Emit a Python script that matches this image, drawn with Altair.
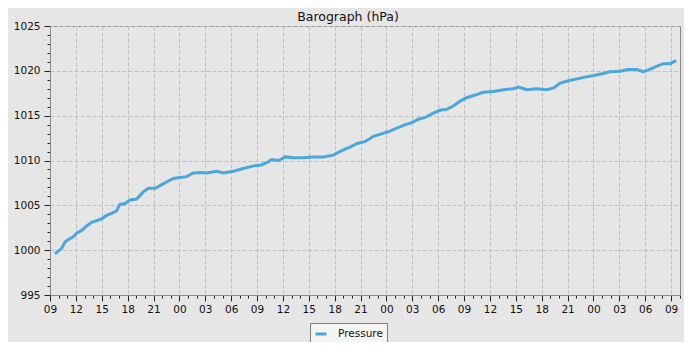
import altair as alt
import pandas as pd

START = "2024-03-04 09:00"
END = "2024-03-07 10:02"
SERIES = "Pressure"

# hours after 09:00 of the first day
hours = [0.58, 1.35, 1.74, 2.13, 2.7, 3.1, 3.67, 4.25, 4.83, 5.41, 6.0, 6.6, 7.15,
         7.73, 8.1, 8.7, 9.28, 10.05, 10.8, 11.4, 12.2, 12.75, 13.5, 14.3, 15.07,
         15.85, 16.6, 17.6, 18.2, 19.3, 20.1, 21.25, 22.4, 23.6, 24.5, 25.3, 25.7,
         26.5, 27.3, 28.2, 29.4, 30.5, 31.7, 32.85, 33.6, 34.4, 34.8, 35.6, 36.5,
         37.5, 38.5, 39.2, 40.2, 41.2, 41.9, 42.7, 43.5, 44.25, 45.2, 46.0, 46.8,
         47.5, 48.3, 49.3, 50.2, 51.4, 52.6, 53.7, 54.3, 55.3, 56.4, 57.6, 58.4,
         59.1, 60.1, 61.1, 62.0, 63.2, 64.15, 64.9, 66.1, 67.0, 68.0, 68.8, 69.6,
         70.3, 71.1, 71.9, 72.6]

pressure = [999.6, 1000.2, 1000.9, 1001.2, 1001.5, 1001.9, 1002.2, 1002.7, 1003.1,
            1003.3, 1003.5, 1003.9, 1004.1, 1004.4, 1005.1, 1005.2, 1005.6, 1005.7,
            1006.5, 1006.9, 1006.9, 1007.2, 1007.6, 1008.0, 1008.1, 1008.2, 1008.6,
            1008.65, 1008.6, 1008.8, 1008.6, 1008.8, 1009.1, 1009.4, 1009.5, 1009.85,
            1010.1, 1010.0, 1010.4, 1010.3, 1010.3, 1010.4, 1010.4, 1010.6, 1011.0,
            1011.35, 1011.5, 1011.9, 1012.1, 1012.7, 1013.0, 1013.2, 1013.6, 1014.0,
            1014.2, 1014.6, 1014.8, 1015.2, 1015.6, 1015.7, 1016.1, 1016.6, 1017.0,
            1017.3, 1017.6, 1017.7, 1017.9, 1018.0, 1018.2, 1017.9, 1018.0, 1017.9,
            1018.1, 1018.6, 1018.9, 1019.1, 1019.3, 1019.5, 1019.7, 1019.9, 1019.95,
            1020.15, 1020.15, 1019.9, 1020.2, 1020.5, 1020.8, 1020.8, 1021.15]

y_major = [995, 1000, 1005, 1010, 1015, 1020, 1025]
y_minor = list(range(995, 1026))

FMT = "%Y-%m-%dT%H:%M:%S"
t0 = pd.Timestamp(START)
df = pd.DataFrame({
    "time": [(t0 + pd.Timedelta(hours=h)).strftime(FMT) for h in hours],
    "pressure": pressure,
    "series": SERIES,
})


def dt(ts):
    return alt.DateTime(year=ts.year, month=ts.month, date=ts.day,
                        hours=ts.hour, minutes=ts.minute)


x_major = [dt(t) for t in pd.date_range(START, END, freq="3h")]
x_minor = [dt(t) for t in pd.date_range(START, END, freq="1h")]

FONT = "DejaVu Sans"
LINE_COLOR = "#4ba6d9"

x_scale = alt.Scale(domain=[dt(pd.Timestamp(START)), dt(pd.Timestamp(END))], nice=False)
y_scale = alt.Scale(domain=[995, 1025], nice=False, zero=False)

base = alt.Chart(df)

minor = base.mark_line(opacity=0).encode(
    x=alt.X("time:T", scale=x_scale,
            axis=alt.Axis(orient="bottom", values=x_minor,
                          labels=False, grid=False, domain=False, tickSize=3,
                          tickColor="#222", title=None)),
    y=alt.Y("pressure:Q", scale=y_scale,
            axis=alt.Axis(orient="left", values=y_minor, labels=False, grid=False,
                          domain=False, tickSize=3, tickColor="#222", title=None)),
)

line = base.mark_line(strokeWidth=3).encode(
    x=alt.X("time:T", scale=x_scale,
            axis=alt.Axis(orient="bottom", format="%H", values=x_major,
                          grid=True, gridDash=[4, 2], gridColor="#c0c0c0",
                          tickSize=6, tickColor="#222", domainColor="#888",
                          labelPadding=3, labelFont=FONT, labelFontSize=10.5,
                          labelColor="#111", labelFlush=False, title=None)),
    y=alt.Y("pressure:Q", scale=y_scale,
            axis=alt.Axis(orient="left", values=y_major, format="d", grid=True,
                          gridDash=[4, 2], gridColor="#c0c0c0", tickSize=6,
                          tickColor="#222", domainColor="#888", labelPadding=4,
                          labelFont=FONT, labelFontSize=10.5, labelColor="#111",
                          title=None)),
    color=alt.Color("series:N", scale=alt.Scale(domain=[SERIES], range=[LINE_COLOR]),
                    legend=alt.Legend(orient="none", legendX=260, legendY=297,
                                      title=None, fillColor="#f4f4f4",
                                      strokeColor="#808080", padding=4,
                                      symbolType="stroke", symbolStrokeWidth=3,
                                      symbolSize=120, labelFont=FONT,
                                      labelFontSize=10.5, labelColor="#111",
                                      labelOffset=10)),
)

chart = alt.layer(minor, line).resolve_axis(x="independent", y="independent").properties(
    width=630,
    height=269,
    autosize=alt.AutoSizeParams(type="none"),
    padding={"left": 42, "top": 18, "right": 4, "bottom": 47},
    title=alt.TitleParams("Barograph (hPa)", font=FONT, fontSize=12.5, fontWeight="normal",
                          color="#111", anchor="middle", dx=-17, dy=2, offset=0),
).configure(background="#e6e6e6").configure_view(stroke="#888", strokeWidth=1)

chart.save("out.html", embed_options={"renderer": "svg", "actions": False})
